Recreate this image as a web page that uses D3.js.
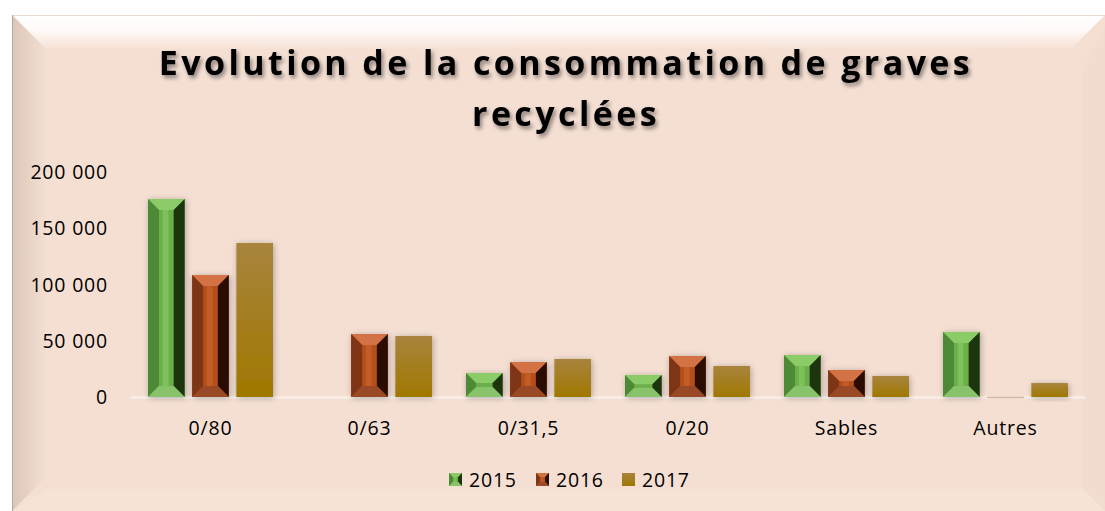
<!DOCTYPE html>
<html>
<head>
<meta charset="utf-8">
<script src="https://cdn.jsdelivr.net/npm/d3@7"></script>
<style>
  body { margin: 0; background: #fff; }
  text { font-family: "Open Sans", "Noto Sans", sans-serif; }
</style>
</head>
<body>
<div id="container"></div>
<script>
let w = 1105;
let h = 511;

// DATA
let categories = ["0/80", "0/63", "0/31,5", "0/20", "Sables", "Autres"];
let years = ["2015", "2016", "2017"];
let values2015 = [176000, 0, 21300, 19600, 37300, 57800];
let values2016 = [108400, 56000, 31100, 36400, 24000, 300];
let values2017 = [136900, 54200, 33800, 27600, 18700, 12400];
let yTicks = [0, 50000, 100000, 150000, 200000];
let titleLines = ["Evolution de la consommation de graves", "recyclées"];

let series = [values2015, values2016, values2017];

let viz = d3.select("#container").append("svg")
    .attr("width", w)
    .attr("height", h);

let defs = viz.append("defs");

// background gradients (bevelled frame)
let topGrad = defs.append("linearGradient").attr("id", "topGrad")
  .attr("x1", 0).attr("y1", 0).attr("x2", 0).attr("y2", 1);
topGrad.append("stop").attr("offset", "0%").attr("stop-color", "#ffffff");
topGrad.append("stop").attr("offset", "45%").attr("stop-color", "#fefaf7");
topGrad.append("stop").attr("offset", "100%").attr("stop-color", "#f6e1d5");

let leftGrad = defs.append("linearGradient").attr("id", "leftGrad")
  .attr("x1", 0).attr("y1", 0).attr("x2", 1).attr("y2", 0);
leftGrad.append("stop").attr("offset", "0%").attr("stop-color", "#dcc6ba");
leftGrad.append("stop").attr("offset", "100%").attr("stop-color", "#f3ded2");

let goldGrad = defs.append("linearGradient").attr("id", "goldGrad")
  .attr("x1", 0).attr("y1", 0).attr("x2", 0).attr("y2", 1);
goldGrad.append("stop").attr("offset", "0%").attr("stop-color", "#a8843e");
goldGrad.append("stop").attr("offset", "100%").attr("stop-color", "#a07800");

let shadow = defs.append("filter").attr("id", "shadow")
  .attr("x", "-30%").attr("y", "-30%").attr("width", "160%").attr("height", "160%");
shadow.append("feGaussianBlur").attr("in", "SourceAlpha").attr("stdDeviation", 3).attr("result", "b");
shadow.append("feOffset").attr("in", "b").attr("dx", 1).attr("dy", 1).attr("result", "o");
shadow.append("feComponentTransfer").attr("in", "o").attr("result", "s")
  .append("feFuncA").attr("type", "linear").attr("slope", 0.3);
let sm = shadow.append("feMerge");
sm.append("feMergeNode").attr("in", "s");
sm.append("feMergeNode").attr("in", "SourceGraphic");

let titleShadow = defs.append("filter").attr("id", "tshadow")
  .attr("x", "-5%").attr("y", "-30%").attr("width", "110%").attr("height", "160%");
titleShadow.append("feGaussianBlur").attr("in", "SourceAlpha").attr("stdDeviation", 2).attr("result", "b");
titleShadow.append("feOffset").attr("in", "b").attr("dx", 2).attr("dy", 3).attr("result", "o");
titleShadow.append("feComponentTransfer").attr("in", "o").attr("result", "s")
  .append("feFuncA").attr("type", "linear").attr("slope", 0.45);
let tm = titleShadow.append("feMerge");
tm.append("feMergeNode").attr("in", "s");
tm.append("feMergeNode").attr("in", "SourceGraphic");

// FRAME
let fx0 = 12, fy0 = 15, fx1 = 1105, fy1 = 511, bev = 34;
viz.append("rect").attr("x", fx0).attr("y", fy0).attr("width", fx1 - fx0).attr("height", fy1 - fy0)
  .attr("fill", "#f5dfd3");
viz.append("path")
  .attr("d", `M${fx0},${fy0}L${fx1},${fy0}L${fx1 - bev},${fy0 + bev}L${fx0 + bev},${fy0 + bev}Z`)
  .attr("fill", "url(#topGrad)");
viz.append("path")
  .attr("d", `M${fx0},${fy0}L${fx0 + bev},${fy0 + bev}L${fx0 + bev},${fy1 - bev}L${fx0},${fy1}Z`)
  .attr("fill", "url(#leftGrad)");
viz.append("path")
  .attr("d", `M${fx1},${fy0 + 12}L${fx1 - 22},${fy0 + bev + 20}L${fx1 - 22},${fy1 - 20}L${fx1},${fy1}Z`)
  .attr("fill", "#f2dccf");
viz.append("path")
  .attr("d", `M${fx0},${fy1}L${fx0 + bev},${fy1 - 22}L${fx1 - 22},${fy1 - 22}L${fx1},${fy1}Z`)
  .attr("fill", "#f6e2d6");
viz.append("line").attr("x1", fx0).attr("x2", fx1).attr("y1", fy0 + 0.5).attr("y2", fy0 + 0.5)
  .attr("stroke", "#ecdcd4");
viz.append("line").attr("x1", fx0 + 0.5).attr("x2", fx0 + 0.5).attr("y1", fy0).attr("y2", fy1)
  .attr("stroke", "#b8a69c");

// TITLE
viz.append("g").attr("filter", "url(#tshadow)")
  .selectAll("text").data(titleLines).enter()
  .append("text")
    .attr("x", 566)
    .attr("y", function(d, i){ return 75 + i * 51; })
    .attr("text-anchor", "middle")
    .attr("font-size", 34)
    .attr("font-weight", "bold")
    .attr("letter-spacing", 3.4)
    .attr("fill", "#000")
    .text(function(d){ return d; });

// SCALES
let xScale = d3.scaleBand().domain(categories).range([131, 1085]).paddingInner(0).paddingOuter(0);
let x1 = d3.scaleBand().domain(years).range([17, xScale.bandwidth() - 17]).paddingInner(0.17);
let yScale = d3.scaleLinear().domain([0, 200000]).range([397, 172]);

let labelSize = 19.5;
let labelSpacing = 0.8;

// Y labels
let fmt = function(v){ return d3.format(",")(v).replace(/,/g, " "); };
viz.append("g").selectAll("text").data(yTicks).enter()
  .append("text")
    .attr("x", 108)
    .attr("y", function(d){ return yScale(d) + 7; })
    .attr("text-anchor", "end")
    .attr("font-size", labelSize)
    .attr("letter-spacing", labelSpacing)
    .attr("fill", "#000")
    .text(fmt);

// baseline
viz.append("line").attr("x1", 131).attr("x2", 1085).attr("y1", 397.5).attr("y2", 397.5)
  .attr("stroke", "#f8efea").attr("stroke-width", 2.5);

// X labels
viz.append("g").selectAll("text").data(categories).enter()
  .append("text")
    .attr("x", function(d){ return xScale(d) + xScale.bandwidth() / 2; })
    .attr("y", 435)
    .attr("text-anchor", "middle")
    .attr("font-size", labelSize)
    .attr("letter-spacing", labelSpacing)
    .attr("fill", "#000")
    .text(function(d){ return d; });

// bevel palettes
let palettes = {
  "2015": { face: "#6cae48", top: "#8ccc68", left: "#4e8a35", right: "#1c3510", bottom: "#88c26a", hi: "#86c863" },
  "2016": { face: "#b4501c", top: "#d37344", left: "#7e3614", right: "#2a1006", bottom: "#9a4a28", hi: "#c9622b" }
};

function bevelBar(g, x, y, bw, bh, p){
  if (bh <= 0) return;
  let b = Math.min(bw * 0.3, bh * 0.42);
  let x0 = x, x1b = x + bw, y0 = y, y1b = y + bh;
  g.append("rect").attr("x", x0).attr("y", y0).attr("width", bw).attr("height", bh).attr("fill", p.face);
  g.append("path").attr("d", `M${x0},${y0}L${x1b},${y0}L${x1b - b},${y0 + b}L${x0 + b},${y0 + b}Z`).attr("fill", p.top);
  g.append("path").attr("d", `M${x0},${y0}L${x0 + b},${y0 + b}L${x0 + b},${y1b - b}L${x0},${y1b}Z`).attr("fill", p.left);
  g.append("path").attr("d", `M${x1b},${y0}L${x1b - b},${y0 + b}L${x1b - b},${y1b - b}L${x1b},${y1b}Z`).attr("fill", p.right);
  g.append("path").attr("d", `M${x0},${y1b}L${x0 + b},${y1b - b}L${x1b - b},${y1b - b}L${x1b},${y1b}Z`).attr("fill", p.bottom);
  if (bh - 2 * b > 4) {
    g.append("rect").attr("x", x0 + b + (bw - 2 * b) * 0.25).attr("y", y0 + b)
      .attr("width", (bw - 2 * b) * 0.4).attr("height", bh - 2 * b)
      .attr("fill", p.hi).attr("opacity", 0.7);
  }
}

// BARS
let groups = viz.selectAll(".group").data(categories).enter()
  .append("g")
    .attr("class", "group")
    .attr("transform", function(d){ return "translate(" + xScale(d) + ",0)"; });

groups.each(function(cat, ci){
  let g = d3.select(this);
  years.forEach(function(yr, si){
    let v = series[si][ci];
    if (v <= 0) return;
    let bx = x1(yr), by = yScale(v), bh = yScale(0) - yScale(v), bw = x1.bandwidth();
    let bg = g.append("g").attr("filter", "url(#shadow)");
    if (yr == "2017") {
      bg.append("rect").attr("x", bx).attr("y", by).attr("width", bw).attr("height", bh)
        .attr("fill", "url(#goldGrad)");
    } else if (bh < 2) {
      bg.append("rect").attr("x", bx).attr("y", by).attr("width", bw).attr("height", Math.max(bh, 1.5))
        .attr("fill", "#d8b4a0");
    } else {
      bevelBar(bg, bx, by, bw, bh, palettes[yr]);
    }
  });
});

// LEGEND
let legendX = [449, 536, 622];
let leg = viz.selectAll(".legend").data(years).enter()
  .append("g")
    .attr("class", "legend")
    .attr("transform", function(d, i){ return "translate(" + legendX[i] + ",473)"; });
leg.each(function(yr){
  let g = d3.select(this);
  if (yr == "2017") {
    g.append("rect").attr("width", 13).attr("height", 13).attr("fill", "url(#goldGrad)");
  } else {
    bevelBar(g, 0, 0, 13, 13, palettes[yr]);
  }
});
leg.append("text")
  .attr("x", 20)
  .attr("y", 14)
  .attr("font-size", labelSize)
  .attr("letter-spacing", labelSpacing)
  .attr("fill", "#000")
  .text(function(d){ return d; });
</script>
</body>
</html>
